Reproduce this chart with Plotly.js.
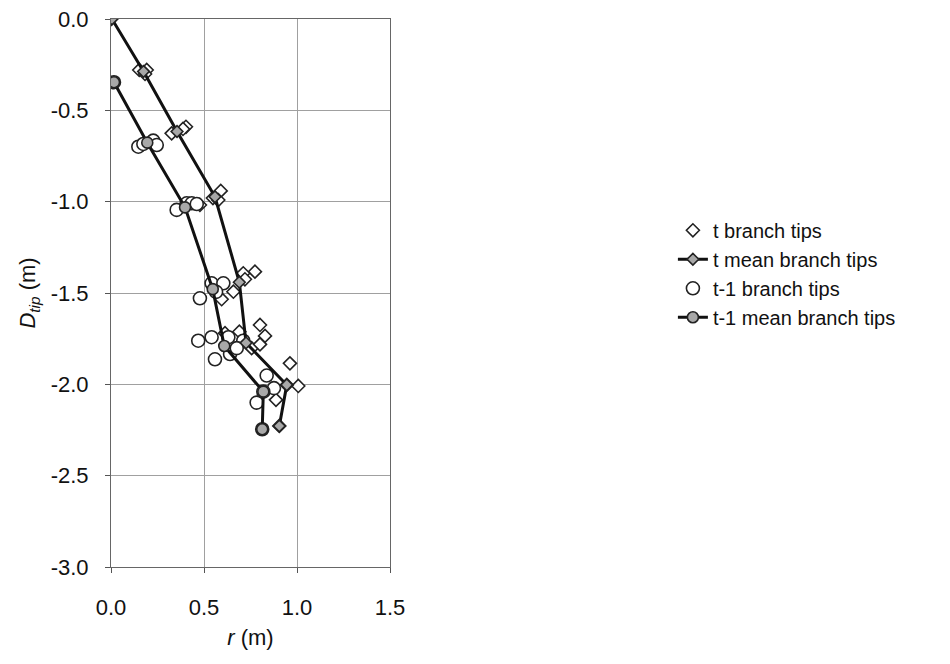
<!DOCTYPE html>
<html>
<head>
<meta charset="utf-8">
<script src="https://cdn.plot.ly/plotly-3.0.1.min.js"></script>
<style>html,body{margin:0;padding:0;background:#fff;}#chart{width:950px;height:664px;}</style>
</head>
<body>
<div id="chart"></div>
<script>
// t branch tips (individual)
const tTipsR = [0.0, 0.152, 0.192, 0.183, 0.326, 0.403, 0.387, 0.548, 0.590, 0.577, 0.478,
  0.774, 0.711, 0.720, 0.658, 0.595, 0.613, 0.690, 0.801, 0.828, 0.756, 0.801, 0.962, 1.007, 0.887, 0.905, 0.945];
const tTipsD = [0.0, -0.279, -0.279, -0.301, -0.626, -0.590, -0.602, -0.980, -0.941, -0.991, -1.018,
  -1.383, -1.392, -1.425, -1.493, -1.534, -1.720, -1.712, -1.675, -1.735, -1.802, -1.781, -1.885, -2.009, -2.085, -2.228, -2.003];
// t mean branch tips
const tMeanR = [0.005, 0.175, 0.355, 0.559, 0.690, 0.726, 0.945, 0.905];
const tMeanD = [0.0, -0.287, -0.616, -0.973, -1.441, -1.773, -2.003, -2.228];
// t-1 branch tips (individual)
const t1TipsR = [0.016, 0.147, 0.174, 0.227, 0.246, 0.353, 0.407, 0.434, 0.461, 0.478, 0.541, 0.604, 0.565,
  0.469, 0.541, 0.631, 0.711, 0.559, 0.640, 0.676, 0.837, 0.876, 0.783, 0.813, 0.819];
const t1TipsD = [-0.346, -0.699, -0.684, -0.666, -0.690, -1.045, -1.009, -1.009, -1.013, -1.529, -1.447, -1.447, -1.494,
  -1.761, -1.742, -1.742, -1.761, -1.863, -1.834, -1.802, -1.952, -2.021, -2.100, -2.246, -2.040];
// t-1 mean branch tips
const t1MeanR = [0.016, 0.195, 0.398, 0.547, 0.609, 0.819, 0.813];
const t1MeanD = [-0.346, -0.677, -1.031, -1.479, -1.790, -2.040, -2.246];

const xTicks = [0, 0.5, 1.0, 1.5];
const xTickText = ['0.0', '0.5', '1.0', '1.5'];
const yTicks = [0, -0.5, -1.0, -1.5, -2.0, -2.5, -3.0];
const yTickText = ['0.0', '-0.5', '-1.0', '-1.5', '-2.0', '-2.5', '-3.0'];

const traces = [
  {x: tTipsR, y: tTipsD, mode: 'markers', name: 't branch tips', legendrank: 1,
   marker: {symbol: 'diamond', size: 10, color: '#ffffff', line: {color: '#222', width: 1.6}}},
  {x: t1TipsR, y: t1TipsD, mode: 'markers', name: 't-1 branch tips', legendrank: 3,
   marker: {symbol: 'circle', size: 13, color: '#ffffff', line: {color: '#222', width: 1.6}}},
  {x: tMeanR, y: tMeanD, mode: 'lines+markers', name: 't mean branch tips', legendrank: 2,
   line: {color: '#111', width: 3},
   marker: {symbol: 'diamond', size: 9, color: '#a8a8a8', line: {color: '#222', width: 1.6}}},
  {x: t1MeanR, y: t1MeanD, mode: 'lines+markers', name: 't-1 mean branch tips', legendrank: 4,
   line: {color: '#111', width: 3},
   marker: {symbol: 'circle', size: 11, color: '#a8a8a8', line: {color: '#222', width: 1.6}}}
];

const layout = {
  width: 950, height: 664,
  margin: {l: 111, r: 560, t: 19, b: 97},
  paper_bgcolor: '#fff', plot_bgcolor: '#fff',
  font: {family: 'Liberation Sans, Arial, sans-serif', color: '#111', size: 22},
  showlegend: true,
  legend: {x: 2.014, xanchor: 'left', y: 0.65, yanchor: 'top', font: {size: 20},
           bgcolor: 'rgba(0,0,0,0)', tracegroupgap: 0, itemwidth: 30},
  xaxis: {range: [0, 1.5], tickvals: xTicks, ticktext: xTickText, ticks: 'outside', ticklen: 5,
          tickcolor: '#555', showgrid: true, gridcolor: '#a0a0a0', gridwidth: 1,
          showline: true, linecolor: '#666', linewidth: 1, mirror: true, zeroline: false,
          ticklabelstandoff: 16, tickfont: {size: 22},
          title: {text: '<i>r</i> (m)', font: {size: 22}, standoff: 10}},
  yaxis: {range: [-3, 0], tickvals: yTicks, ticktext: yTickText, ticks: 'outside', ticklen: 5,
          tickcolor: '#555', showgrid: true, gridcolor: '#a0a0a0', gridwidth: 1,
          showline: true, linecolor: '#666', linewidth: 1, mirror: true, zeroline: false,
          ticklabelstandoff: 12, tickfont: {size: 22},
          title: {text: '<i>D</i><sub><i>tip</i></sub> (m)', font: {size: 22}, standoff: 8}}
};

Plotly.newPlot('chart', traces, layout, {displayModeBar: false, staticPlot: true});
</script>
</body>
</html>
